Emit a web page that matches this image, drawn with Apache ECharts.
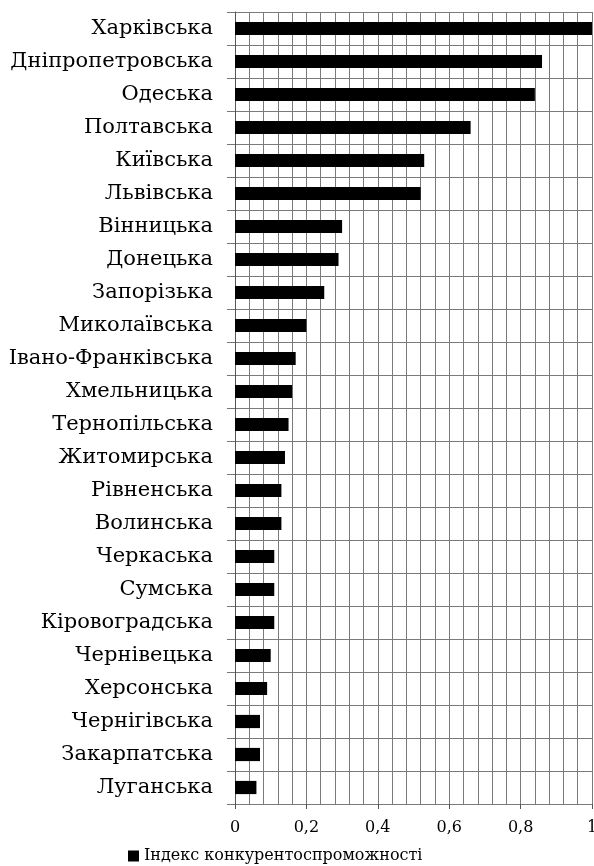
<!DOCTYPE html>
<html>
<head>
<meta charset="utf-8">
<script src="https://cdn.jsdelivr.net/npm/echarts@6/dist/echarts.min.js"></script>
<style>
  html, body { margin: 0; padding: 0; background: #fff; }
  #box { width: 594px; height: 866px; }
</style>
</head>
<body>
<div id="box"></div>
<script>
// області, зверху вниз
const regions = [
  "Харківська", "Дніпропетровська", "Одеська", "Полтавська", "Київська",
  "Львівська", "Вінницька", "Донецька", "Запорізька", "Миколаївська",
  "Івано-Франківська", "Хмельницька", "Тернопільська", "Житомирська",
  "Рівненська", "Волинська", "Черкаська", "Сумська", "Кіровоградська",
  "Чернівецька", "Херсонська", "Чернігівська", "Закарпатська", "Луганська"
];
// індекс конкурентоспроможності
const indexValues = [
  1.0, 0.86, 0.84, 0.66, 0.53,
  0.52, 0.30, 0.29, 0.25, 0.20,
  0.17, 0.16, 0.15, 0.14,
  0.13, 0.13, 0.11, 0.11, 0.11,
  0.10, 0.09, 0.07, 0.07, 0.06
];
const seriesName = "Індекс конкурентоспроможності";

const font = "'DejaVu Serif', 'Liberation Serif', serif";
const gridColor = "#7a7a7a";
const chart = echarts.init(document.getElementById("box"));

const option = {
  backgroundColor: "#fff",
  animation: false,
  textStyle: { fontFamily: font },
  grid: { left: 235, right: 2, top: 12, bottom: 62, outerBoundsMode: "none", containLabel: false },
  legend: {
    data: [seriesName],
    top: 843,
    left: 123,
    icon: "rect",
    itemWidth: 11,
    itemHeight: 11,
    itemGap: 4,
    textStyle: { fontFamily: font, fontSize: 16, color: "#000" },
  },
  xAxis: {
    type: "value",
    min: 0,
    max: 1,
    interval: 0.2,
    axisLine: { show: false },
    axisTick: { show: true, length: 5, lineStyle: { color: "#555" } },
    axisLabel: {
      margin: 16,
      fontFamily: font,
      fontSize: 16,
      color: "#000",
      formatter: (v) => String(+v.toFixed(1)).replace(".", ","),
    },
    splitLine: { show: true, lineStyle: { color: gridColor, width: 1 } },
    minorTick: { show: false, splitNumber: 5 },
    minorSplitLine: { show: true, lineStyle: { color: gridColor, width: 1 } },
  },
  yAxis: {
    type: "category",
    data: regions,
    inverse: true,
    axisLine: { show: true, lineStyle: { color: "#555" } },
    axisTick: { show: true, length: 8, lineStyle: { color: "#777" } },
    axisLabel: { margin: 22, fontFamily: font, fontSize: 21, color: "#000" },
    splitLine: { show: true, lineStyle: { color: gridColor, width: 1 } },
  },
  series: [
    {
      name: seriesName,
      type: "bar",
      data: indexValues,
      barWidth: "40%",
      itemStyle: { color: "#000" },
    },
  ],
};
chart.setOption(option);
</script>
</body>
</html>
